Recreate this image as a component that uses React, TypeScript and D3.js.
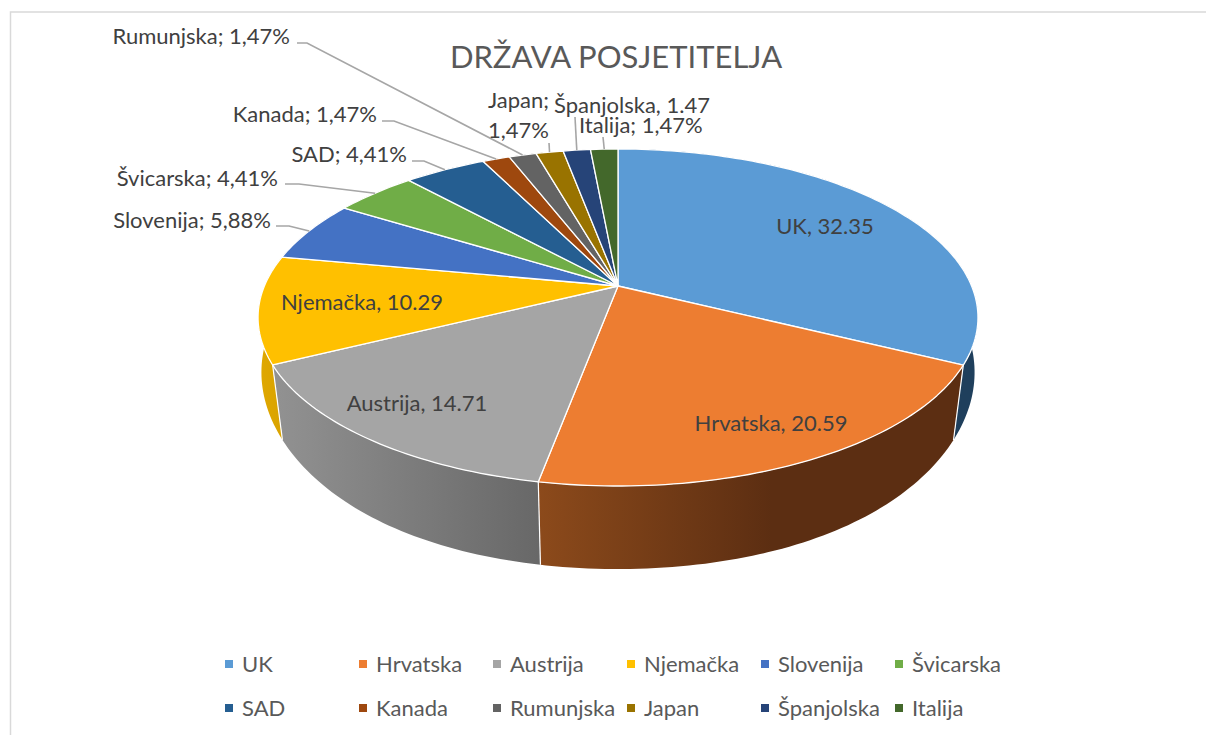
import React from "react";
import * as d3 from "d3";

const categories = ["UK", "Hrvatska", "Austrija", "Njemačka", "Slovenija", "Švicarska", "SAD", "Kanada", "Rumunjska", "Japan", "Španjolska", "Italija"];
const values = [32.35, 20.59, 14.71, 10.29, 5.88, 4.41, 4.41, 1.47, 1.47, 1.47, 1.47, 1.47];
const colors = ["#5B9BD5", "#ED7D31", "#A5A5A5", "#FFC000", "#4472C4", "#70AD47", "#255E91", "#9E480E", "#636363", "#997300", "#264478", "#43682B"];
const sideLeft = ["#1f3f5c", "#8c4a1b", "#929292", "#e0a800", "#2b4a80", "#4a7530", "#1a4266", "#6f320a", "#454545", "#6b5100", "#1b3054", "#2f491e"];
const sideRight = ["#1f3f5c", "#5c2e12", "#686868", "#d9a300", "#2b4a80", "#4a7530", "#1a4266", "#6f320a", "#454545", "#6b5100", "#1b3054", "#2f491e"];
const insideLabels = ["UK, 32.35", "Hrvatska, 20.59", "Austrija, 14.71", "Njemačka, 10.29"];
const insidePositions = [[825, 225], [771, 422], [417, 402], [362, 301]];
const outsideLabels = [
  { i: 4, lines: ["Slovenija; 5,88%"], x: 271, y: 219, anchor: "end", elbow: [[276, 226], [289, 226]] },
  { i: 5, lines: ["Švicarska; 4,41%"], x: 278, y: 177, anchor: "end", elbow: [[285, 184], [299, 184]] },
  { i: 6, lines: ["SAD; 4,41%"], x: 407, y: 153, anchor: "end", elbow: [[412, 161], [424, 161]] },
  { i: 7, lines: ["Kanada; 1,47%"], x: 377, y: 113, anchor: "end", elbow: [[382, 121], [394, 121]] },
  { i: 8, lines: ["Rumunjska; 1,47%"], x: 290, y: 35, anchor: "end", elbow: [[297, 43], [307, 43]] },
  { i: 9, lines: ["Japan;", "1,47%"], x: 549, y: 99, anchor: "end", elbow: [[549, 143]] },
  { i: 10, lines: ["Španjolska, 1.47"], x: 554, y: 104, anchor: "start", elbow: [[575, 117]] },
  { i: 11, lines: ["Italija; 1,47%"], x: 579, y: 124, anchor: "start", elbow: [[603, 137]] },
];

const FONT = "Lato, 'Open Sans', sans-serif";
const cx = 618;
const P = 0.187;
const A = 353.6;
const topY = 286;
const topB = 162.6;
const botP = 0.12;
const botA = 354;
const botY = 348.6;
const botB = 194;

function project(theta: number, bottom = false): [number, number] {
  const u = Math.sin(theta);
  const v = -Math.cos(theta);
  if (bottom) {
    const w = 1 - botP * v;
    const front = 1 + 0.054 * v * v * v * v;
    return [cx + (botA * u * front) / w, botY + (botB * v) / w];
  }
  const w = 1 - P * v;
  return [cx + (A * u) / w, topY + (topB * v) / w];
}

const pie = d3.pie<number>().sort(null).value((d) => d)(values);
const STEP = 0.02;
function samples(a0: number, a1: number): number[] {
  const out = d3.range(a0, a1, STEP);
  out.push(a1);
  return out;
}
const lineGen = d3.line<[number, number]>();
const legendX = d3.scaleLinear().domain([0, 5]).range([229, 899]);
const legendY = d3.scalePoint<number>().domain([0, 1]).range([664, 708]);

export default function App() {
  return (
    <svg width={1206} height={735} style={{ position: "absolute", left: 0, top: 0, background: "#fff" }} fontFamily={FONT}>
      <defs>
        {pie.map((s, i) => {
          const ts = samples(s.startAngle, s.endAngle).map((t) => project(t)[0]);
          const xmin = d3.min(ts) as number;
          const xmax = d3.max(ts) as number;
          return (
            <linearGradient key={i} id={`side${i}`} gradientUnits="userSpaceOnUse" x1={xmin} x2={xmin + (xmax - xmin) * (i === 1 ? 0.55 : 1)} y1={0} y2={0}>
              <stop offset="0" stopColor={sideLeft[i]} />
              <stop offset="1" stopColor={sideRight[i]} />
            </linearGradient>
          );
        })}
      </defs>
      <path d="M10.5 736V12H1206" fill="none" stroke="#d9d9d9" strokeWidth={1.5} />
      <text x={616} y={56} textAnchor="middle" dominantBaseline="central" fontSize={31} fill="#595959">DRŽAVA POSJETITELJA</text>

      {pie.map((s, i) => {
        const ts = samples(s.startAngle, s.endAngle);
        const top = ts.map((t) => project(t));
        const bot = ts.map((t) => project(t, true)).reverse();
        return (
          <path key={i} d={(lineGen([...top, ...bot]) as string) + "Z"} fill={`url(#side${i})`} />
        );
      })}
      {pie.slice(0, 3).map((s, i) => (
        <path key={i} d={lineGen([project(s.endAngle), project(s.endAngle, true)]) as string} stroke="#fff" strokeWidth={1.2} fill="none" />
      ))}
      {pie.map((s, i) => {
        const pts = samples(s.startAngle, s.endAngle).map((t) => project(t));
        return (
          <path key={i} d={(lineGen([[cx, topY], ...pts]) as string) + "Z"} fill={colors[i]} stroke="#fff" strokeWidth={1.3} strokeLinejoin="round" />
        );
      })}

      {outsideLabels.map((l) => {
        const s = pie[l.i];
        const end = project((s.startAngle + s.endAngle) / 2);
        return (
          <g key={l.i}>
            <path d={lineGen([...(l.elbow as [number, number][]), end]) as string} fill="none" stroke="#a6a6a6" strokeWidth={1.6} />
            {l.lines.map((t, j) => (
              <text key={j} x={l.x} y={l.y + j * 30} textAnchor={l.anchor as "start" | "end"} dominantBaseline="central" fontSize={22} fill="#404040">{t}</text>
            ))}
          </g>
        );
      })}
      {insideLabels.map((t, i) => (
        <text key={t} x={insidePositions[i][0]} y={insidePositions[i][1]} textAnchor="middle" dominantBaseline="central" fontSize={22} fill="#404040">{t}</text>
      ))}

      {categories.map((c, i) => {
        const col = i % 6;
        const row = Math.floor(i / 6);
        const x = legendX(col);
        const y = legendY(row) as number;
        return (
          <g key={c}>
            <rect x={x - 4} y={y - 4} width={8} height={8} fill={colors[i]} />
            <text x={x + 13} y={y - 1} dominantBaseline="central" fontSize={22} fill="#595959">{c}</text>
          </g>
        );
      })}
    </svg>
  );
}
